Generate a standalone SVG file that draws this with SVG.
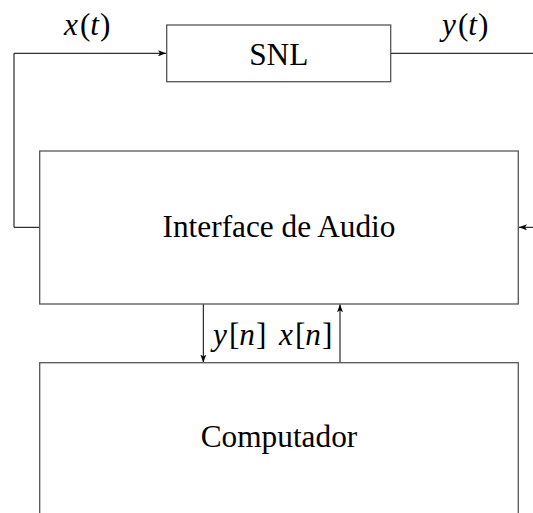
<svg xmlns="http://www.w3.org/2000/svg" width="533" height="513" viewBox="0 0 533 513">
<defs>
<style>
.box{fill:#fff;stroke:#555;stroke-width:1.3}
.wire{fill:none;stroke:#000;stroke-width:1}
text{font-family:'Liberation Serif','Times New Roman','DejaVu Serif',serif;font-size:31.3px;fill:#000}
.it{font-style:italic}
</style>
<marker id="ah" viewBox="0 0 8 6" refX="8" refY="3" markerWidth="8" markerHeight="6" markerUnits="userSpaceOnUse" orient="auto">
<path d="M0,0 L8,3 L0,6 L2,3 Z" fill="#000"/>
</marker>
</defs>
<g id="connectors">
<path class="wire" d="M39.7,227.3 H14 V53.3 H166" marker-end="url(#ah)"/>
<path class="wire" d="M390.7,53.3 H533"/>
<path class="wire" d="M533,227.3 H519" marker-end="url(#ah)"/>
<path class="wire" d="M203.3,304 V362.5" marker-end="url(#ah)"/>
<path class="wire" d="M340,362.7 V304.3" marker-end="url(#ah)"/>
<text x="64" y="35" font-family="Liberation Serif, DejaVu Serif, serif"><tspan class="it">x</tspan><tspan dx="2">(</tspan><tspan class="it">t</tspan><tspan dx="1">)</tspan></text>
<text x="442" y="35" font-family="Liberation Serif, DejaVu Serif, serif"><tspan class="it">y</tspan><tspan dx="2">(</tspan><tspan class="it">t</tspan><tspan dx="1">)</tspan></text>
<text x="213" y="345" font-family="Liberation Serif, DejaVu Serif, serif"><tspan class="it">y</tspan><tspan dx="2">[</tspan><tspan class="it">n</tspan><tspan dx="1">]</tspan></text>
<text x="279" y="345" font-family="Liberation Serif, DejaVu Serif, serif"><tspan class="it">x</tspan><tspan dx="2">[</tspan><tspan class="it">n</tspan><tspan dx="1">]</tspan></text>
</g>
<g id="snl">
<rect class="box" x="166.7" y="25" width="224" height="56.7"/>
<text x="278.7" y="65" text-anchor="middle" font-family="Liberation Serif, DejaVu Serif, serif">SNL</text>
</g>
<g id="interface">
<rect class="box" x="39.7" y="151" width="478.6" height="153"/>
<text x="279" y="236.7" text-anchor="middle" font-family="Liberation Serif, DejaVu Serif, serif">Interface de Audio</text>
</g>
<g id="computador">
<rect class="box" x="39.7" y="362.7" width="478.6" height="170"/>
<text x="279" y="446.7" text-anchor="middle" font-family="Liberation Serif, DejaVu Serif, serif">Computador</text>
</g>
</svg>
